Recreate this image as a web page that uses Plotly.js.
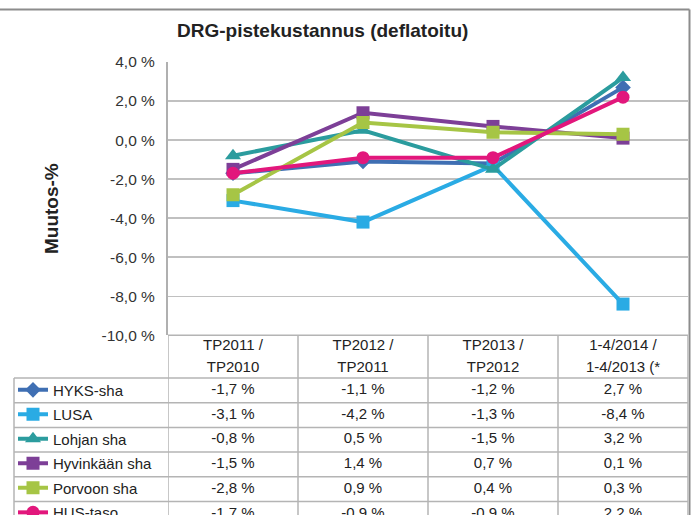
<!DOCTYPE html>
<html>
<head>
<meta charset="utf-8">
<script src="https://cdn.plot.ly/plotly-3.0.1.min.js"></script>
<style>html,body{margin:0;padding:0;background:#fff;overflow:hidden;}#chart{width:697px;height:515px;}</style>
</head>
<body>
<div id="chart"></div>
<script>
// ---- data ----
const categories = ['TP2011 / TP2010', 'TP2012 / TP2011', 'TP2013 / TP2012', '1-4/2014 / 1-4/2013 (*'];
const seriesNames = ['HYKS-sha', 'LUSA', 'Lohjan sha', 'Hyvinkään sha', 'Porvoon sha', 'HUS-taso'];
const hyksSha = [-1.7, -1.1, -1.2, 2.7];
const lusa = [-3.1, -4.2, -1.3, -8.4];
const lohjanSha = [-0.8, 0.5, -1.5, 3.2];
const hyvinkaanSha = [-1.5, 1.4, 0.7, 0.1];
const porvoonSha = [-2.8, 0.9, 0.4, 0.3];
const husTaso = [-1.7, -0.9, -0.9, 2.2];
const yTickVals = [4, 2, 0, -2, -4, -6, -8, -10];
const yTickText = ['4,0 %', '2,0 %', '0,0 %', '-2,0 %', '-4,0 %', '-6,0 %', '-8,0 %', '-10,0 %'];
const chartTitle = 'DRG-pistekustannus (deflatoitu)';
const yTitle = 'Muutos-%';

// ---- styles ----
const seriesValues = [hyksSha, lusa, lohjanSha, hyvinkaanSha, porvoonSha, husTaso];
const colors = ['#3f6fb3', '#2aabe4', '#2b9c9e', '#7d3f97', '#a6c545', '#e2177c'];
const symbols = ['diamond', 'square', 'triangle-up', 'square', 'square', 'circle'];
const msizes = [12, 13, 14, 13, 13, 13];
const FONT = 'Liberation Sans, Arial, sans-serif';
const TXT = '#222';
const W = 697, H = 515;
const PL = 168, PR = 688, PT = 62, PB = 335.3;
const HEADER = 42.7, ROW = 24.7, KEYLEFT = 14;
const px = v => v / W;
const py = v => 1 - v / H;
const rowCenter = i => HEADER + ROW * (i + 0.5);
const fmt = v => v.toFixed(1).replace('.', ',') + ' %';

const traces = [];
seriesValues.forEach((vals, i) => {
  traces.push({
    type: 'scatter', mode: 'lines+markers', name: seriesNames[i],
    x: categories, y: vals, xaxis: 'x', yaxis: 'y',
    legendgroup: 'g' + i,
    line: {color: colors[i], width: 4},
    marker: {color: colors[i], symbol: symbols[i], size: msizes[i]},
    cliponaxis: false
  });
});
// table cells
seriesValues.forEach((vals, i) => {
  traces.push({
    type: 'scatter', mode: 'text', x: categories, y: vals.map(() => rowCenter(i)),
    text: vals.map(fmt), xaxis: 'x', yaxis: 'y2', showlegend: false, hoverinfo: 'skip',
    textfont: {family: FONT, size: 15, color: TXT}, cliponaxis: false
  });
});
// header
traces.push({
  type: 'scatter', mode: 'text', x: categories, y: categories.map(() => 11),
  text: categories.map(c => c.split(' / ')[0] + ' /'), xaxis: 'x', yaxis: 'y2',
  showlegend: false, hoverinfo: 'skip', textfont: {family: FONT, size: 15, color: TXT}, cliponaxis: false
});
traces.push({
  type: 'scatter', mode: 'text', x: categories, y: categories.map(() => 32.5),
  text: categories.map(c => c.split(' / ')[1]), xaxis: 'x', yaxis: 'y2',
  showlegend: false, hoverinfo: 'skip', textfont: {family: FONT, size: 15, color: TXT}, cliponaxis: false
});

const GRID = '#b4b4b4';
const shapes = [];
// table horizontal lines
shapes.push({type: 'line', xref: 'paper', yref: 'paper', x0: px(PL), x1: px(PR), y0: py(PB), y1: py(PB), line: {color: GRID, width: 1.5}});
for (let r = 0; r <= seriesNames.length; r++) {
  const yy = PB + HEADER + ROW * r;
  shapes.push({type: 'line', xref: 'paper', yref: 'paper', x0: px(KEYLEFT), x1: px(PR), y0: py(yy), y1: py(yy), line: {color: GRID, width: 1.5}});
}
// table vertical lines
for (let c = 0; c <= categories.length; c++) {
  shapes.push({type: 'line', xref: 'x', yref: 'paper', x0: c - 0.5, x1: c - 0.5, y0: py(PB), y1: 0, line: {color: GRID, width: 1.5}});
}
shapes.push({type: 'line', xref: 'paper', yref: 'paper', x0: px(KEYLEFT), x1: px(KEYLEFT), y0: py(PB + HEADER), y1: 0, line: {color: GRID, width: 1.5}});
// outer chart border
shapes.push({type: 'line', xref: 'paper', yref: 'paper', x0: 0, x1: px(689.5), y0: py(9.5), y1: py(9.5), line: {color: '#8c8c8c', width: 2}});
shapes.push({type: 'line', xref: 'paper', yref: 'paper', x0: px(689.5), x1: px(689.5), y0: py(9.5), y1: 0, line: {color: '#8c8c8c', width: 2}});

const layout = {
  width: W, height: H,
  margin: {l: 0, r: 0, t: 0, b: 0, pad: 0, autoexpand: false},
  paper_bgcolor: '#fff', plot_bgcolor: '#fff',
  font: {family: FONT, size: 15, color: TXT},
  showlegend: true,
  legend: {
    x: px(KEYLEFT - 1), y: py(373.6), xanchor: 'left', yanchor: 'top',
    bgcolor: 'rgba(0,0,0,0)', borderwidth: 0, tracegroupgap: 2.0,
    font: {family: FONT, size: 15, color: TXT}, itemclick: false, itemdoubleclick: false
  },
  xaxis: {
    domain: [px(PL), px(PR)], type: 'category', categoryarray: categories, categoryorder: 'array',
    range: [-0.5, categories.length - 0.5], showticklabels: false, showgrid: false,
    zeroline: false, showline: false, ticks: '', fixedrange: true, automargin: false
  },
  yaxis: {
    domain: [py(PB), py(PT)], range: [-10, 4], tickvals: yTickVals, ticktext: yTickText,
    showgrid: true, gridcolor: '#c0c0c0', gridwidth: 1.5, zeroline: false,
    showline: true, linecolor: '#b0b0b0', linewidth: 2, ticks: '', ticklabelstandoff: 8,
    tickfont: {family: FONT, size: 15.5, color: '#333'}, fixedrange: true, automargin: false
  },
  yaxis2: {
    domain: [0, py(PB)], range: [H - PB, 0], anchor: 'x', visible: false, fixedrange: true
  },
  shapes: shapes,
  annotations: [
    {text: '<b>' + chartTitle + '</b>', xref: 'paper', yref: 'paper', x: px(322), y: py(31),
     xanchor: 'center', yanchor: 'middle', showarrow: false, font: {family: FONT, size: 19, color: TXT}},
    {text: '<b>' + yTitle + '</b>', xref: 'paper', yref: 'paper', x: px(52), y: py(209),
     xanchor: 'center', yanchor: 'middle', textangle: -90, showarrow: false, font: {family: FONT, size: 19, color: TXT}}
  ]
};

Plotly.newPlot('chart', traces, layout, {displayModeBar: false, staticPlot: true});
</script>
</body>
</html>
